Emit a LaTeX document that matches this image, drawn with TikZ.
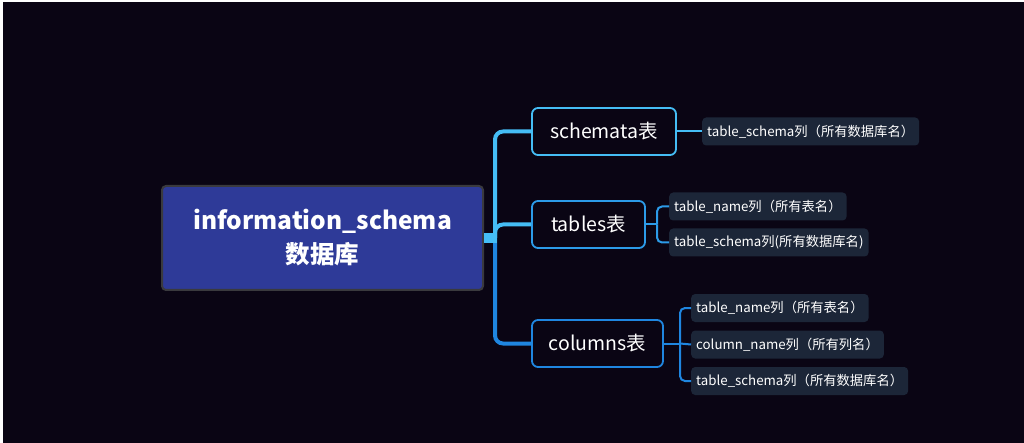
\documentclass[tikz,border=0pt]{standalone}
\usepackage{fontspec}
\setmainfont{Noto Sans CJK SC}
\usetikzlibrary{calc}
\definecolor{bg}{HTML}{0A0514}
\definecolor{rootfill}{HTML}{2E3A98}
\definecolor{rootedge}{HTML}{3A3A3E}
\definecolor{ca}{HTML}{45BDF5}
\definecolor{cb}{HTML}{2C9BE8}
\definecolor{cc}{HTML}{1F86E0}
\definecolor{leaffill}{HTML}{1C2638}
\tikzset{
  rootbox/.style={fill=rootfill, draw=rootedge, line width=2pt, rounded corners=4pt,
    minimum width=321pt, minimum height=104pt, align=center, text=white,
    font=\bfseries\fontsize{24.5}{34}\selectfont, inner sep=0pt},
  tblbox/.style={fill=bg, line width=1.8pt, rounded corners=6pt, minimum height=47pt,
    text=white, font=\fontsize{19.5}{22}\selectfont, inner sep=0pt},
  leafbox/.style={fill=leaffill, rounded corners=4pt, minimum height=28pt, anchor=west,
    text=white, font=\fontsize{13.3}{16}\selectfont, inner xsep=5pt, inner ysep=0pt},
  branch/.style={line width=4pt, rounded corners=8pt},
  twig/.style={line width=2pt, rounded corners=5pt},
}
\begin{document}
\begin{tikzpicture}[x=1pt,y=-1pt]
\useasboundingbox (0,0) rectangle (1024,443);
\fill[white] (0,0) rectangle (1024,443);
\fill[bg] (3,2) rectangle (1024,443);

\node[rootbox] (root) at (322.5,238) {information\_schema\\数据库};

\node[tblbox, draw=ca, minimum width=144pt] (sch) at (604,131.5) {schemata表};
\node[tblbox, draw=cb, minimum width=113pt] (tab) at (588.5,224.5) {tables表};
\node[tblbox, draw=cc, minimum width=131pt] (col) at (597.5,343.5) {columns表};

\node[leafbox] (s1) at (702,131.5) {table\_schema列（所有数据库名）};
\node[leafbox] (t1) at (669,206.5) {table\_name列（所有表名）};
\node[leafbox] (t2) at (669,242.5) {table\_schema列(所有数据库名)};
\node[leafbox] (k1) at (691,308) {table\_name列（所有表名）};
\node[leafbox] (k2) at (691,344.5) {column\_name列（所有列名）};
\node[leafbox] (k3) at (691,381) {table\_schema列（所有数据库名）};

\coordinate (jt) at (495,238);
\coordinate (tj) at (657,224.5);
\coordinate (cj) at (680,343.5);

% trunk
\draw[branch, cc] (jt) |- (col.west);
\draw[branch, ca] (jt) |- (sch.west);
\draw[branch, ca] (jt) |- (tab.west);
\draw[ca, line width=10pt] (root.east) -- ($(jt)+(2,0)$);

% twigs
\draw[twig, ca] (sch.east) -- (s1.west);
\draw[twig, cb] (tab.east) -- (tj);
\draw[twig, cb] (tj) |- (t1.west);
\draw[twig, cb] (tj) |- (t2.west);
\draw[twig, cc] (col.east) -- (cj);
\draw[twig, cc] (cj) |- (k1.west);
\draw[twig, cc] (cj) -- (k2.west);
\draw[twig, cc] (cj) |- (k3.west);
\end{tikzpicture}
\end{document}
